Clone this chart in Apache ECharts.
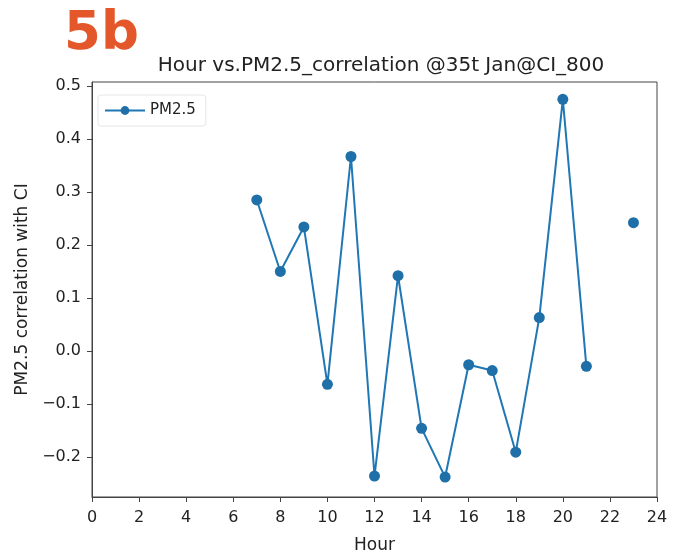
<!DOCTYPE html>
<html><head><meta charset="utf-8">
<script src="https://cdn.jsdelivr.net/npm/echarts@6/dist/echarts.min.js"></script>
<style>html,body{margin:0;padding:0;background:#fff}#c{width:681px;height:559px}</style>
</head><body><div id="c"></div>
<script>
const hours = [7, 8, 9, 10, 11, 12, 13, 14, 15, 16, 17, 18, 19, 20, 21, 22, 23];
const pm25 = [0.285, 0.150, 0.234, -0.063, 0.367, -0.236, 0.142, -0.146, -0.238, -0.026, -0.037, -0.191, 0.063, 0.475, -0.029, null, 0.242];
const yTicks = [-0.2, -0.1, 0.0, 0.1, 0.2, 0.3, 0.4, 0.5];
const seriesName = 'PM2.5';
const titleText = 'Hour vs.PM2.5_correlation @35t Jan@CI_800';
const panelLabel = '5b';

const chart = echarts.init(document.getElementById('c'));
const F = 'DejaVu Sans';
chart.setOption({
  animation: false,
  backgroundColor: '#fff',
  graphic: [{
    type: 'text', left: 64, top: 9,
    style: { text: panelLabel, fill: '#E4572A', font: 'bold 53px "DejaVu Sans"' }
  }],
  title: {
    text: titleText, left: 376, textAlign: 'center', top: 51,
    textStyle: { fontFamily: F, fontSize: 20, fontWeight: 'normal', color: '#222' }
  },
  legend: {
    data: [seriesName], left: 98, top: 95, orient: 'vertical',
    borderColor: '#e6e6e6', borderWidth: 1, borderRadius: 3, padding: [8, 10, 8, 6],
    itemWidth: 40, itemHeight: 11, itemGap: 4,
    textStyle: { fontFamily: F, fontSize: 15, color: '#222' }
  },
  grid: { left: 92, right: 24, top: 82, bottom: 60, show: true, borderColor: '#444', borderWidth: 1, backgroundColor: 'transparent' },
  xAxis: {
    type: 'value', min: 0, max: 24, interval: 2,
    name: 'Hour', nameLocation: 'middle', nameGap: 40,
    nameTextStyle: { fontFamily: F, fontSize: 17, color: '#222' },
    axisLine: { show: true, onZero: false, lineStyle: { color: '#444' } },
    axisTick: { show: true, inside: false, length: 5, lineStyle: { color: '#444' } },
    axisLabel: { fontFamily: F, fontSize: 16, color: '#222', margin: 13 },
    splitLine: { show: false }
  },
  yAxis: {
    type: 'value', min: -0.2756, max: 0.5076,
    name: 'PM2.5 correlation with CI', nameLocation: 'middle', nameGap: 61,
    nameTextStyle: { fontFamily: F, fontSize: 17, color: '#222' },
    axisLine: { show: true, onZero: false, lineStyle: { color: '#444' } },
    axisTick: { show: true, length: 5, customValues: yTicks, lineStyle: { color: '#444' } },
    axisLabel: { fontFamily: F, fontSize: 16, color: '#222', margin: 11, customValues: yTicks,
      formatter: v => v.toFixed(1).replace('-', '\u2212') },
    splitLine: { show: false }
  },
  series: [{
    name: seriesName, type: 'line',
    data: hours.map((h, i) => [h, pm25[i] === null ? '-' : pm25[i]]),
    connectNulls: false,
    symbol: 'circle', symbolSize: 11, showSymbol: true,
    lineStyle: { color: '#1f77b4', width: 2 },
    itemStyle: { color: '#1f6fa8' }
  }]
});
</script>
</body></html>
